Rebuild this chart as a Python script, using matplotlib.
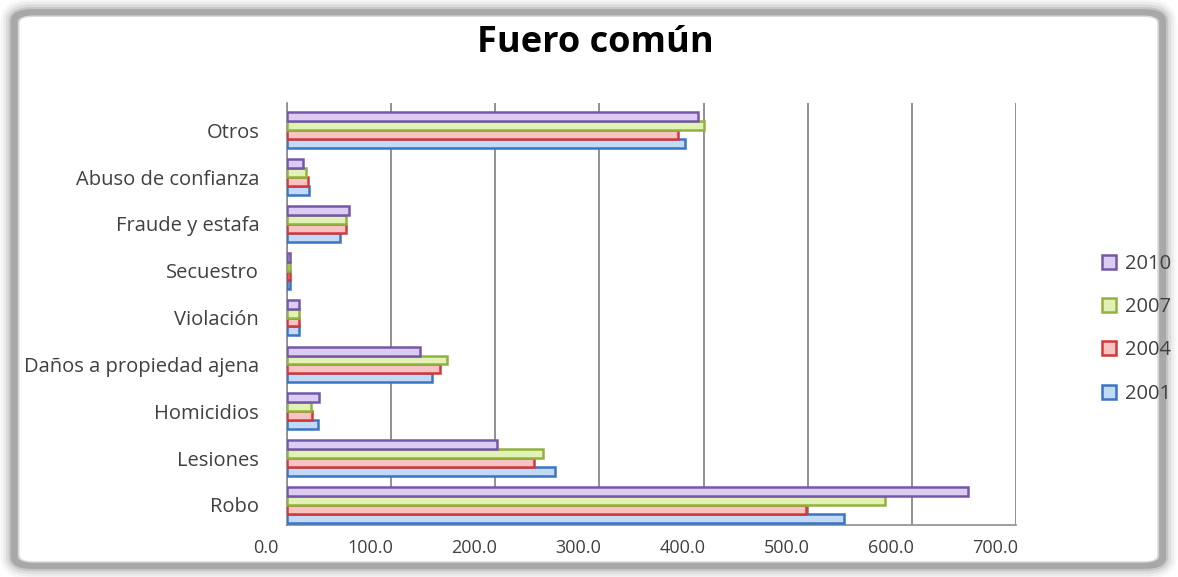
import matplotlib
matplotlib.use('Agg')
import matplotlib.pyplot as plt
import matplotlib.transforms as mtransforms
from matplotlib.patches import FancyBboxPatch
import numpy as np

categories = ['Robo', 'Lesiones', 'Homicidios', 'Daños a propiedad ajena', 'Violación',
              'Secuestro', 'Fraude y estafa', 'Abuso de confianza', 'Otros']
years = ['2001', '2004', '2007', '2010']
v2001 = [535, 257, 30, 139, 12, 3, 51, 21, 382]
v2004 = [498, 237, 24, 147, 12, 3, 57, 20, 375]
v2007 = [574, 246, 23, 154, 12, 3, 57, 18, 400]
v2010 = [654, 202, 31, 128, 12, 3, 60, 15, 395]
xticks = [0, 100, 200, 300, 400, 500, 600, 700]

fills = ['#c3daf7', '#f8c3c3', '#e2f2b4', '#ddccf2']
edges = ['#3a74c4', '#d2383a', '#8fb33e', '#7457a8']

plt.rcParams['font.family'] = ['Open Sans', 'DejaVu Sans']

fig = plt.figure(figsize=(11.78, 5.77), dpi=100)

# soft grey frame around the chart
for lw, a in [(20, 0.05), (16, 0.08), (12, 0.12), (8, 0.2), (5, 0.35)]:
    fig.patches.append(FancyBboxPatch((0.012, 0.02), 0.975, 0.958,
                                      boxstyle='round,pad=0,rounding_size=0.015',
                                      transform=fig.transFigure, facecolor='none',
                                      edgecolor='#707070', lw=lw, alpha=a, zorder=0))
fig.patches.append(FancyBboxPatch((0.016, 0.026), 0.967, 0.946,
                                  boxstyle='round,pad=0,rounding_size=0.012',
                                  transform=fig.transFigure, facecolor='white',
                                  edgecolor='#d8d8d8', lw=1, zorder=0.5))

ax = fig.add_axes([0.2436, 0.090, 0.6189, 0.7314])
ax.set_zorder(2)
ax.set_facecolor('none')

y = np.arange(len(categories))
h = 0.19
offs = [-0.285, -0.095, 0.095, 0.285]
for vals, off, fc, ec, yr in zip([v2001, v2004, v2007, v2010], offs, fills, edges, years):
    ax.barh(y + off, vals, height=h, color=fc, edgecolor=ec, linewidth=1.8, label=yr, zorder=3)

ax.set_xlim(0, 700)
ax.set_ylim(-0.43, 8.58)
ax.set_xticks(xticks)
ax.set_xticklabels(['%.1f' % t for t in xticks], fontsize=13, color='#404040')
ax.set_yticks(y)
ax.set_yticklabels(categories, fontsize=14.5, color='#404040')
ax.tick_params(axis='both', length=0)
ax.tick_params(axis='x', pad=10)
ax.tick_params(axis='y', pad=20)
shift = mtransforms.ScaledTranslation(-0.21, 0, fig.dpi_scale_trans)
for lab in ax.get_xticklabels():
    lab.set_transform(lab.get_transform() + shift)

ax.grid(axis='x', color='#7f7f7f', linewidth=1.2, zorder=1)
for side in ['top', 'right']:
    ax.spines[side].set_visible(False)
ax.spines['left'].set_color('#8c8c8c')
ax.spines['bottom'].set_color('#8c8c8c')
ax.spines['left'].set_linewidth(1.2)
ax.spines['bottom'].set_linewidth(1.2)

fig.text(0.505, 0.925, 'Fuero común', ha='center', va='center', fontsize=26,
         fontweight='bold', color='black', zorder=3)

handles, labels = ax.get_legend_handles_labels()
leg = fig.legend(handles[::-1], labels[::-1], loc='center left', bbox_to_anchor=(0.92, 0.43),
                 frameon=False, fontsize=14.5, handlelength=0.7, handleheight=0.7,
                 labelspacing=1.15, handletextpad=0.45, labelcolor='#404040')
leg.set_zorder(3)

fig.savefig('out.png', dpi=100)
